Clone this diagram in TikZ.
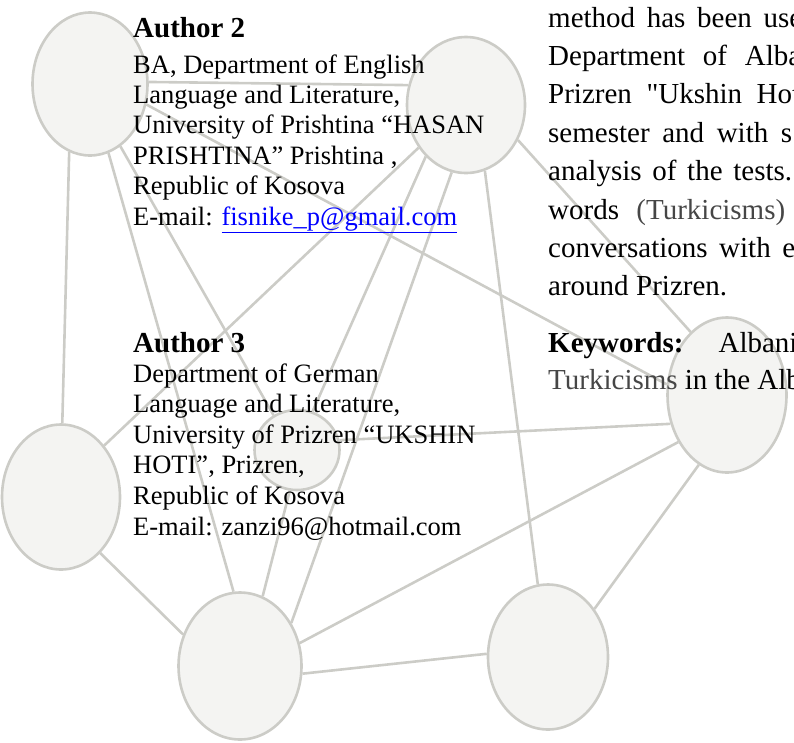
\documentclass[tikz,border=0pt]{standalone}
\usepackage{fontspec}
\setmainfont{Liberation Serif}[Ligatures=TeXOff]
\usepackage{xcolor}
\usetikzlibrary{shapes.geometric, backgrounds}

\definecolor{netfill}{RGB}{244,244,242}
\definecolor{netline}{RGB}{204,204,199}
\definecolor{linkblue}{RGB}{0,0,255}
\definecolor{txtgrey}{RGB}{70,70,70}

\begin{document}
\begin{tikzpicture}[
  x=1pt, y=-1pt,
  hub/.style={ellipse, draw=netline, fill=netfill, line width=2.6pt, inner sep=0pt},
  link/.style={draw=netline, line width=2.6pt},
  heading/.style={anchor=base west, inner sep=0pt, font=\fontsize{29}{34}\selectfont\bfseries},
  affil/.style={anchor=base west, inner sep=0pt, font=\fontsize{26.5}{30.5}\selectfont},
  abstr/.style={anchor=base west, inner sep=0pt, font=\fontsize{29}{38}\selectfont}
]
\clip (0,0) rectangle (794,742);

% ================= network in the background =================
\node[hub, minimum width=115pt, minimum height=143pt] (hubA) at (90,84) {};
\node[hub, minimum width=118pt, minimum height=136pt] (hubB) at (466,105) {};
\node[hub, minimum width=118pt, minimum height=145pt] (hubC) at (61,497) {};
\node[hub, minimum width=85pt, minimum height=80pt] (hubD) at (297,450) {};
\node[hub, minimum width=119pt, minimum height=155pt] (hubE) at (727,395) {};
\node[hub, minimum width=123pt, minimum height=147pt] (hubF) at (240,666) {};
\node[hub, minimum width=120pt, minimum height=145pt] (hubG) at (548,657) {};

\begin{scope}[on background layer]
\draw[link] (hubA.2) -- (hubB.161);
\draw[link] (hubA.253) -- (hubC.89);
\draw[link] (hubA.296) -- (hubD.124);
\draw[link] (hubA.285) -- (hubF.95);
\draw[link] (hubA.340) -- (hubE.170);
\draw[link] (hubB.222) -- (hubC.50);
\draw[link] (hubB.232) -- (hubD.68);
\draw[link] (hubB.258) -- (hubF.40);
\draw[link] (hubB.286) -- (hubG.98);
\draw[link] (hubB.326) -- (hubE.120);
\draw[link] (hubC.305) -- (hubF.151);
\draw[link] (hubD.13) -- (hubE.207);
\draw[link] (hubD.260) -- (hubF.72);
\draw[link] (hubF.21) -- (hubE.224);
\draw[link] (hubF.353) -- (hubG.177);
\draw[link] (hubG.46) -- (hubE.248);
\end{scope}

% ================= Author 2 =================
\node[heading] (autwo) at (133,37) {Author 2};
\foreach \txt [count=\i] in {
  {BA, Department of English},
  {Language and Literature,},
  {University of Prishtina “HASAN},
  {PRISHTINA” Prishtina ,},
  {Republic of Kosova},
  {E-mail: \textcolor{linkblue}{\underline{fisnike\_p@gmail.com}}}}
  \node[affil] (autwo-\i) at (133,{73+30.4*(\i-1)}) {\txt};

% ================= Author 3 =================
\node[heading] (authree) at (133,352) {Author 3};
\foreach \txt [count=\i] in {
  {Department of German},
  {Language and Literature,},
  {University of Prizren “UKSHIN},
  {HOTI”, Prizren,},
  {Republic of Kosova},
  {E-mail: zanzi96@hotmail.com}}
  \node[affil] (authree-\i) at (133,{382+30.6*(\i-1)}) {\txt};

% ================= abstract (cut at the right edge) =================
\foreach \w/\txt [count=\i] in {
  254/{method has been use},
  253/{Department of Alba},
  252/{Prizren "Ukshin Hot},
  244/{semester and with s},
  244/{analysis of the tests.},
  237/{words \textcolor{txtgrey}{(Turkicisms)}},
  247/{conversations with e},
  179/{around Prizren.}}
  \node[abstr] (abs-\i) at (548,{27+38.4*(\i-1)}) {\makebox[\w pt][s]{\txt}};

\node[abstr] (keyw) at (548,352) {\makebox[249.3pt][s]{\textbf{Keywords:} Albani}};
\node[abstr] (keyw-2) at (548,389.5) {\textcolor{txtgrey}{Turkicisms} in the Alb};

\end{tikzpicture}
\end{document}
